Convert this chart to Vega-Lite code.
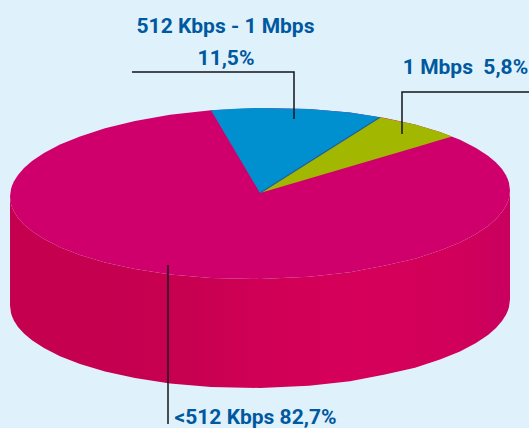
{
"$schema":"https://vega.github.io/schema/vega-lite/v6.json",
"width":529,"height":428,
"autosize":"none",
"padding":0,
"background":"#dff1fb",
"view":{"stroke":null},
"datasets":{
"wall":[{"x":10,"y":196.5,"y2":305.5},{"x":11,"y":204.1,"y2":313.1},{"x":12,"y":207.3,"y2":316.3},{"x":14,"y":211.7,"y2":320.7},{"x":18,"y":217.9,"y2":326.9},{"x":24,"y":224.5,"y2":333.5},{"x":32,"y":231.3,"y2":340.3},{"x":44,"y":239.1,"y2":348.1},{"x":60,"y":247.2,"y2":356.2},{"x":80,"y":255,"y2":364},{"x":105,"y":262.5,"y2":371.5},{"x":135,"y":269,"y2":378},{"x":170,"y":274.4,"y2":383.4},{"x":211,"y":277.9,"y2":386.9},{"x":260,"y":279,"y2":388},{"x":309,"y":276.7,"y2":385.7},{"x":350,"y":272.2,"y2":381.2},{"x":385,"y":265.5,"y2":374.5},{"x":415,"y":258.7,"y2":367.7},{"x":440,"y":250.6,"y2":359.6},{"x":460,"y":242.4,"y2":351.4},{"x":476,"y":233.9,"y2":342.9},{"x":488,"y":225.9,"y2":334.9},{"x":496,"y":218.9,"y2":327.9},{"x":502,"y":212.1,"y2":321.1},{"x":506,"y":205.7,"y2":314.7},{"x":508,"y":201.3,"y2":310.3},{"x":509,"y":198.1,"y2":307.1},{"x":510,"y":190.5,"y2":299.5}],
"top":[{"x":10,"y":196.5,"y2":196.5},{"x":11,"y":188.9,"y2":204.1},{"x":12,"y":185.7,"y2":207.3},{"x":14,"y":181.3,"y2":211.7},{"x":18,"y":174.9,"y2":217.9},{"x":24,"y":168.1,"y2":224.5},{"x":32,"y":161.1,"y2":231.3},{"x":44,"y":153.1,"y2":239.1},{"x":60,"y":144.6,"y2":247.2},{"x":80,"y":136.4,"y2":255},{"x":105,"y":128.3,"y2":262.5},{"x":135,"y":121,"y2":269},{"x":170,"y":114.8,"y2":274.4},{"x":211,"y":110.3,"y2":277.9},{"x":260,"y":108,"y2":279},{"x":309,"y":109.1,"y2":276.7},{"x":350,"y":112.6,"y2":272.2},{"x":385,"y":118,"y2":265.5},{"x":415,"y":124.5,"y2":258.7},{"x":440,"y":132,"y2":250.6},{"x":460,"y":139.8,"y2":242.4},{"x":476,"y":147.9,"y2":233.9},{"x":488,"y":155.7,"y2":225.9},{"x":496,"y":162.5,"y2":218.9},{"x":502,"y":169.1,"y2":212.1},{"x":506,"y":175.3,"y2":205.7},{"x":508,"y":179.7,"y2":201.3},{"x":509,"y":182.9,"y2":198.1},{"x":510,"y":190.5,"y2":190.5}],
"blue":[{"x":211,"y":110.3,"y2":110.3},{"x":240,"y":108.5,"y2":159.2},{"x":260,"y":108,"y2":193},{"x":309,"y":109.1,"y2":162.1},{"x":350,"y":112.6,"y2":136.2},{"x":380,"y":117.3,"y2":117.3}],
"green":[{"x":260,"y":193,"y2":193},{"x":380,"y":117.3,"y2":157.7},{"x":415,"y":124.5,"y2":147.4},{"x":440,"y":132,"y2":140},{"x":452,"y":136.5,"y2":136.5}],
"edge":[{"x":260,"y":193},{"x":380,"y":117.3}],
"leaders":[{"id":"a","s":1,"x":132,"y":72},{"id":"a","s":2,"x":294,"y":72},{"id":"a","s":3,"x":294,"y":119},{"id":"b","s":1,"x":529,"y":92},{"id":"b","s":2,"x":402,"y":92},{"id":"b","s":3,"x":402,"y":134},{"id":"c","s":1,"x":168,"y":265},{"id":"c","s":2,"x":168,"y":424}],
"labels":[{"x":225.5,"y":33,"t":"512 Kbps - 1 Mbps"},{"x":226,"y":65,"t":"11,5%"},{"x":465.5,"y":74,"t":"1 Mbps\u00a0\u00a05,8%"},{"x":255.5,"y":424,"t":"<512 Kbps 82,7%"}]
},
"encoding":{
"x":{"field":"x","type":"quantitative","axis":null,"scale":{"domain":[0,529],"nice":false,"zero":false}},
"y":{"field":"y","type":"quantitative","axis":null,"scale":{"domain":[428,0],"nice":false,"zero":false}}
},
"layer":[
{"data":{"name":"wall"},"mark":{"type":"area","orient":"vertical","color":{"gradient":"linear","x1":0,"y1":0,"x2":1,"y2":0,"stops":[{"offset":0,"color":"#c4004f"},{"offset":0.35,"color":"#c70050"},{"offset":0.5,"color":"#d00056"},{"offset":0.7,"color":"#d6005a"},{"offset":0.9,"color":"#d1005a"},{"offset":1,"color":"#c9005f"}]}},"encoding":{"y2":{"field":"y2"}}},
{"data":{"name":"top"},"mark":{"type":"area","orient":"vertical","color":"#cf006b"},"encoding":{"y2":{"field":"y2"}}},
{"data":{"name":"blue"},"mark":{"type":"area","orient":"vertical","color":"#0090d0"},"encoding":{"y2":{"field":"y2"}}},
{"data":{"name":"green"},"mark":{"type":"area","orient":"vertical","color":"#a2b800"},"encoding":{"y2":{"field":"y2"}}},
{"data":{"name":"edge"},"mark":{"type":"line","color":"#1f5f9e","strokeWidth":1.2}},
{"data":{"name":"leaders"},"mark":{"type":"line","color":"#15151c","strokeWidth":1.5},"encoding":{"detail":{"field":"id"},"order":{"field":"s"}}},
{"data":{"name":"labels"},"mark":{"type":"text","font":"Roboto","fontWeight":"bold","fontSize":21,"color":"#00589f","align":"center","baseline":"alphabetic"},"encoding":{"text":{"field":"t"}}}
]
}
